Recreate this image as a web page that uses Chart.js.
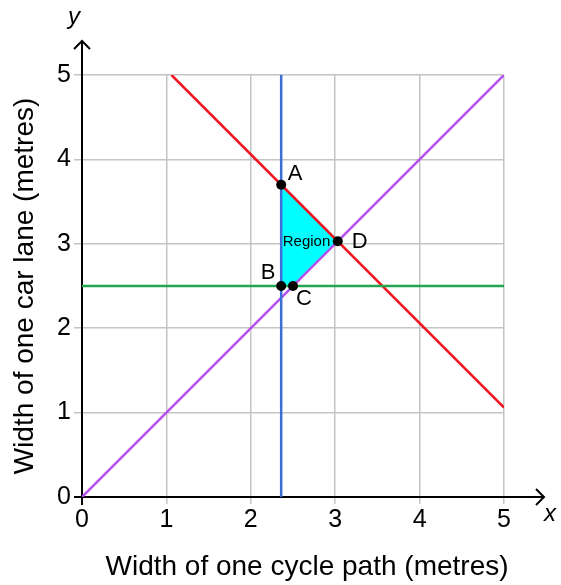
<!DOCTYPE html>
<html>
<head>
<meta charset="utf-8">
<script src="https://cdn.jsdelivr.net/npm/chart.js@4/dist/chart.umd.min.js"></script>
<style>
  html, body { margin: 0; padding: 0; background: #fff; }
  #wrap { width: 561px; height: 585px; }
</style>
</head>
<body>
<div id="wrap"><canvas id="c"></canvas></div>
<script>
// constraint lines (width of cycle path x, width of car lane y)
const redLine = [[1.06, 5], [5, 1.06]];      // x + y = 6.06
const purpleLine = [[0, 0], [5, 5]];         // y = x
const blueLine = [[2.36, 0], [2.36, 5]];     // x = 2.36
const greenLine = [[0, 2.5], [5, 2.5]];      // y = 2.5

// vertices of the feasible region
const vertexNames = ["A", "D", "C", "B"];
const vertexX = [2.36, 3.03, 2.5, 2.36];
const vertexY = [3.70, 3.03, 2.5, 2.5];
const regionLabel = { text: "Region", x: 2.66, y: 3.02 };

const xTicks = [0, 1, 2, 3, 4, 5];
const yTicks = [0, 1, 2, 3, 4, 5];
const xTitle = 'Width of one cycle path (metres)';
const yTitle = 'Width of one car lane (metres)';

const FONT = "Arial, 'Liberation Sans', sans-serif";
const toPts = arr => arr.map(([x, y]) => ({ x, y }));

// label offsets for each vertex name (px)
const labelOffset = { A: [14, -11], B: [-13, -13], C: [11, 13], D: [22, 1] };

const axesPlugin = {
  id: 'axesArrows',
  beforeDatasetsDraw(chart) {
    const { ctx, scales: { x, y } } = chart;
    const x0 = x.getPixelForValue(0), y0 = y.getPixelForValue(0);
    ctx.save();
    ctx.strokeStyle = '#000';
    ctx.lineWidth = 2;
    ctx.beginPath();
    ctx.moveTo(x0 - 8, y0); ctx.lineTo(x.right + 40, y0);
    ctx.moveTo(x0, y0 + 8); ctx.lineTo(x0, y.top - 34);
    ctx.stroke();
    // arrow heads
    ctx.beginPath();
    ctx.moveTo(x.right + 32, y0 - 8); ctx.lineTo(x.right + 40, y0); ctx.lineTo(x.right + 32, y0 + 8);
    ctx.moveTo(x0 - 8, y.top - 26); ctx.lineTo(x0, y.top - 34); ctx.lineTo(x0 + 8, y.top - 26);
    ctx.stroke();
    ctx.fillStyle = '#000';
    ctx.font = "italic 24px " + FONT;
    ctx.textAlign = 'center';
    ctx.textBaseline = 'middle';
    ctx.fillText('x', x.right + 46, y0 + 17);
    ctx.fillText('y', x0 - 8, y.top - 58);
    // horizontal axis title, sits a little right of the plot centre
    ctx.font = "28px " + FONT;
    ctx.fillText(xTitle, (x.left + x.right) / 2 + 14, 567);
    ctx.restore();
  },
  afterDatasetsDraw(chart) {
    const { ctx, scales: { x, y } } = chart;
    const meta = chart.getDatasetMeta(chart.data.datasets.length - 1);
    ctx.save();
    ctx.fillStyle = '#000';
    ctx.textAlign = 'center';
    ctx.textBaseline = 'middle';
    ctx.font = "22px " + FONT;
    meta.data.forEach((pt, i) => {
      const name = vertexNames[i];
      const [dx, dy] = labelOffset[name];
      ctx.fillText(name, pt.x + dx, pt.y + dy);
    });
    ctx.font = "15px " + FONT;
    ctx.fillText(regionLabel.text, x.getPixelForValue(regionLabel.x), y.getPixelForValue(regionLabel.y));
    ctx.restore();
  }
};

const lineSet = (data, color, order) => ({
  data: toPts(data), showLine: true, borderColor: color, borderWidth: 2.5,
  pointRadius: 0, fill: false, order
});

new Chart(document.getElementById('c'), {
  type: 'scatter',
  data: {
    datasets: [
      {
        data: vertexX.map((vx, i) => ({ x: vx, y: vertexY[i] })).concat([{ x: vertexX[0], y: vertexY[0] }]),
        showLine: true, borderWidth: 0, borderColor: 'rgba(0,0,0,0)',
        backgroundColor: '#00ffff', fill: 'shape', pointRadius: 0, order: 10
      },
      lineSet(greenLine, '#23a651', 5),
      lineSet(blueLine, '#3b6fd6', 5),
      lineSet(purpleLine, '#b54ff0', 5),
      lineSet(redLine, '#f0141e', 5),
      {
        data: vertexX.map((vx, i) => ({ x: vx, y: vertexY[i] })),
        pointRadius: 5, pointBackgroundColor: '#000', pointBorderColor: '#000',
        pointBorderWidth: 0, showLine: false, order: 0
      }
    ]
  },
  options: {
    responsive: true,
    maintainAspectRatio: false,
    animation: false,
    layout: { padding: { top: 75, right: 57, left: 0, bottom: 0 } },
    plugins: { legend: { display: false }, tooltip: { enabled: false } },
    scales: {
      x: {
        type: 'linear', min: 0, max: 5,
        afterFit: s => { s.height = 88; },
        afterBuildTicks: s => { s.ticks = xTicks.map(v => ({ value: v })); },
        grid: { color: '#c4c4c4', lineWidth: 1.5, tickLength: 7, tickColor: '#c4c4c4' },
        border: { display: false },
        ticks: { color: '#000', font: { family: FONT, size: 25 }, padding: 1, maxRotation: 0 },
        title: { display: false }
      },
      y: {
        type: 'linear', min: 0, max: 5,
        afterFit: s => { s.width = 82; },
        afterBuildTicks: s => { s.ticks = yTicks.map(v => ({ value: v })); },
        grid: { color: '#c4c4c4', lineWidth: 1.5, tickLength: 8, tickColor: '#c4c4c4' },
        border: { display: false },
        ticks: { color: '#000', font: { family: FONT, size: 25 }, padding: 3 },
        title: { display: true, text: yTitle, color: '#000',
                 font: { family: FONT, size: 28 }, padding: { top: 8 } }
      }
    }
  },
  plugins: [axesPlugin]
});
</script>
</body>
</html>
